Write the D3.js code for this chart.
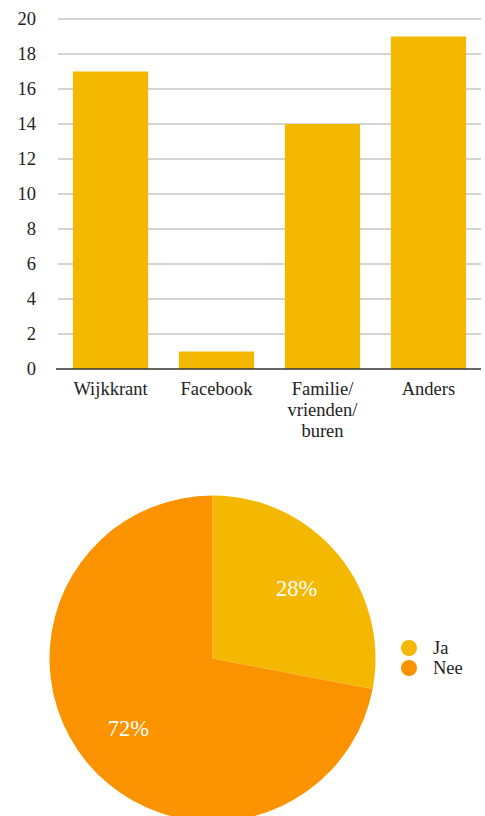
<!DOCTYPE html>
<html>
<head>
<meta charset="utf-8">
<script src="https://cdn.jsdelivr.net/npm/d3@7"></script>
<style>
  html, body { margin: 0; padding: 0; background: #fff; }
  svg { display: block; }
</style>
</head>
<body>
<svg id="chart" width="485" height="816"></svg>
<script>
// Bar chart: where people heard about it
const categories = ["Wijkkrant", "Facebook", "Familie/\nvrienden/\nburen", "Anders"];
const counts = [17, 1, 14, 19];
const yTicks = [0, 2, 4, 6, 8, 10, 12, 14, 16, 18, 20];

// Pie chart: yes / no
const pieLabels = ["Ja", "Nee"];
const pieValues = [28, 72];

const yellow = "#F5B800";
const orange = "#FB9300";
const serif = "Liberation Serif";

const svg = d3.select("#chart");

// ---- Bar chart ----
const x = d3.scaleBand().domain(categories).range([57, 482]).paddingInner(0.29).paddingOuter(0.15);
const y = d3.scaleLinear().domain([0, 20]).range([369, 19]);

const grid = svg.append("g");
grid.selectAll("line").data(yTicks.filter(t => t > 0)).join("line")
  .attr("x1", 58).attr("x2", 481)
  .attr("y1", d => y(d)).attr("y2", d => y(d))
  .attr("stroke", "#c6c6c6").attr("stroke-width", 1.5);

svg.append("g").selectAll("rect").data(counts).join("rect")
  .attr("x", (d, i) => x(categories[i]))
  .attr("width", x.bandwidth())
  .attr("y", d => y(d))
  .attr("height", d => y(0) - y(d))
  .attr("fill", yellow);

svg.append("line")
  .attr("x1", 56).attr("x2", 481)
  .attr("y1", y(0)).attr("y2", y(0))
  .attr("stroke", "#333").attr("stroke-width", 1.5);

svg.append("g").selectAll("text").data(yTicks).join("text")
  .attr("x", 36).attr("y", d => y(d)).attr("dy", "0.33em")
  .attr("text-anchor", "end")
  .style("font-family", serif)
  .style("font-size", "18.5px").attr("fill", "#222")
  .text(d => d);

const xl = svg.append("g").selectAll("text").data(categories).join("text")
  .attr("x", d => x(d) + x.bandwidth() / 2)
  .attr("y", 395)
  .attr("text-anchor", "middle")
  .style("font-family", serif)
  .style("font-size", "18.5px").attr("fill", "#222");
xl.each(function(d) {
  const t = d3.select(this);
  d.split("\n").forEach((line, i) => {
    t.append("tspan").attr("x", t.attr("x")).attr("dy", i === 0 ? 0 : 21).text(line);
  });
});

// ---- Pie chart ----
const cx = 212.5, cy = 658.5, r = 163;
const pie = d3.pie().sort(null).value(d => d)(pieValues);
const arc = d3.arc().innerRadius(0).outerRadius(r);
const colors = [yellow, orange];

const pg = svg.append("g").attr("transform", `translate(${cx},${cy})`);
pg.selectAll("path").data(pie).join("path")
  .attr("d", arc)
  .attr("fill", (d, i) => colors[i]);

const labelArc = d3.arc().innerRadius(r * 0.67).outerRadius(r * 0.67);
pg.selectAll("text").data(pie).join("text")
  .attr("transform", d => `translate(${labelArc.centroid(d)})`)
  .attr("text-anchor", "middle").attr("dy", "0.33em")
  .style("font-family", serif)
  .style("font-size", "22.5px").attr("fill", "#fff")
  .text(d => d.data + "%");

// Legend
const lg = svg.append("g").selectAll("g").data(pieLabels).join("g")
  .attr("transform", (d, i) => `translate(409, ${648 + i * 20})`);
lg.append("circle").attr("r", 8).attr("fill", (d, i) => colors[i]);
lg.append("text").attr("x", 24).attr("dy", "0.33em")
  .style("font-family", serif)
  .style("font-size", "18.5px").attr("fill", "#222").text(d => d);
</script>
</body>
</html>
